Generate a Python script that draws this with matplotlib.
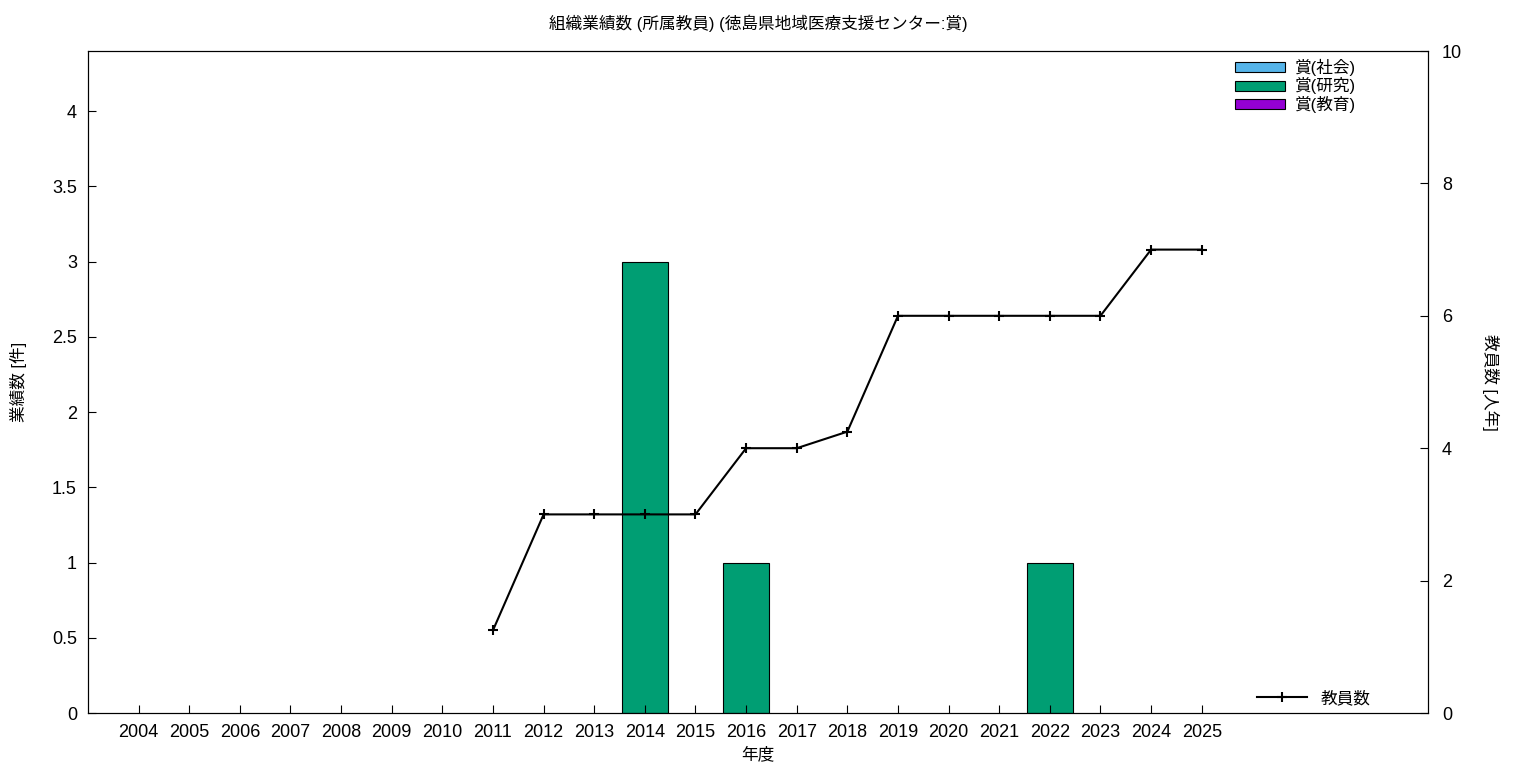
import numpy as np
import matplotlib
matplotlib.use('Agg')
import matplotlib.pyplot as plt
from matplotlib.patches import Patch

plt.rcParams['font.family'] = ['Liberation Sans', 'Noto Sans CJK JP']

years = list(range(2004, 2026))
award_social = [0] * 22
award_research = [0, 0, 0, 0, 0, 0, 0, 0, 0, 0, 3, 0, 1, 0, 0, 0, 0, 0, 1, 0, 0, 0]
award_edu = [0] * 22
staff_years = [2011, 2012, 2013, 2014, 2015, 2016, 2017, 2018, 2019, 2020, 2021, 2022, 2023, 2024, 2025]
staff = [1.25, 3, 3, 3, 3, 4, 4, 4.25, 6, 6, 6, 6, 6, 7, 7]

colors = ['#56B4E9', '#009E73', '#9400D3']
names = ['賞(社会)', '賞(研究)', '賞(教育)']

x = np.arange(len(years))
xs = np.array([years.index(y) for y in staff_years])

fig = plt.figure(figsize=(15.36, 7.68), dpi=100)
ax = fig.add_axes([88 / 1536, 1 - 713 / 768, (1428 - 88) / 1536, (713 - 51) / 768])

w = 0.9
bottom = np.zeros(len(years))
for vals, c in zip([award_social, award_research, award_edu], colors):
    vals = np.array(vals, dtype=float)
    m = vals > 0
    ax.bar(x[m], vals[m], w, bottom=bottom[m], color=c, edgecolor='black', linewidth=0.8)
    bottom += vals

ax.set_xlim(-1, 25.47)
ax.set_ylim(0, 4.4)
ax.set_xticks(x)
ax.set_xticklabels([str(y) for y in years], fontsize=13)
ax.set_yticks(np.arange(0, 4.01, 0.5))
ax.set_yticklabels(['0', '0.5', '1', '1.5', '2', '2.5', '3', '3.5', '4'], fontsize=13)
ax.tick_params(direction='in', length=6, top=False, right=False, pad=8)
ax.set_xlabel('年度', fontsize=12, labelpad=4)
ax.set_ylabel('業績数 [件]', fontsize=12, labelpad=18)
ax.set_title('組織業績数 (所属教員) (徳島県地域医療支援センター:賞)', fontsize=12, pad=16)

ax2 = ax.twinx()
ax2.plot(xs, staff, color='black', linewidth=1.5, marker='+', markersize=7, markeredgewidth=1.5, label='教員数')
ax2.set_ylim(0, 10)
ax2.set_yticks(range(0, 11, 2))
ax2.tick_params(direction='in', length=6, labelsize=13, pad=10)
ax2.set_ylabel('教員数 [人年]', fontsize=12, rotation=-90, labelpad=27)

handles = [Patch(facecolor=c, edgecolor='black', linewidth=0.8) for c in colors]
leg1 = ax.legend(handles, names, loc='upper right', frameon=False, fontsize=12, handlelength=3.0,
                 handleheight=0.55, labelspacing=0.1, handletextpad=0.6,
                 borderaxespad=0.3, bbox_to_anchor=(0.955, 1.006))
leg2 = ax2.legend(loc='lower right', frameon=False, fontsize=12, handlelength=3.0,
                  bbox_to_anchor=(0.968, -0.012))

plt.savefig('out.png', dpi=100)
